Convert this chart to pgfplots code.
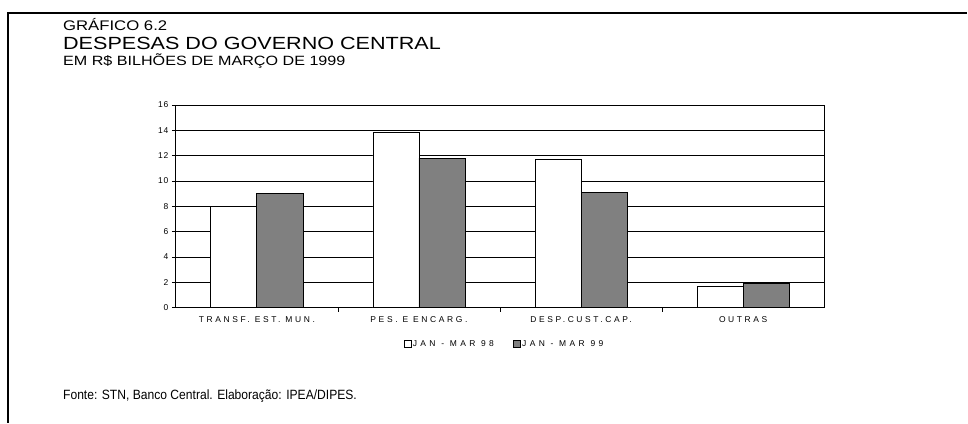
\documentclass[border=0pt]{standalone}
\usepackage{fontspec}
\setmainfont{Liberation Sans}
\newfontfamily\spaced[LetterSpace=31]{Liberation Sans}
\newfontfamily\spacedl[LetterSpace=40]{Liberation Sans}
\newfontfamily\spacedy[LetterSpace=10]{Liberation Sans}
\usepackage{pgfplots}
\pgfplotsset{compat=1.18}
\definecolor{bargray}{HTML}{808080}
\begin{document}
\begin{tikzpicture}[x=1bp,y=1bp]
\path (0,0) rectangle (968,-423);
\draw[line width=1.8bp] (8,-423) -- (8,-13) -- (968,-13);
\node[anchor=base west, inner sep=0pt, font=\fontsize{14}{16}\selectfont] at (63,-30.7) {\scalebox{1.2}[1]{GRÁFICO 6.2}};
\node[anchor=base west, inner sep=0pt, font=\fontsize{17.7}{20}\selectfont] at (63,-49.3) {\scalebox{1.225}[1]{DESPESAS DO GOVERNO CENTRAL}};
\node[anchor=base west, inner sep=0pt, font=\fontsize{13.5}{15}\selectfont] at (63,-65.3) {\scalebox{1.2}[1]{EM R\$ BILHÕES DE MARÇO DE 1999}};
\node[anchor=base west, inner sep=0pt, font=\fontsize{13.5}{15}\selectfont] at (63,-400) {\scalebox{0.9}[1]{Fonte: STN, Banco Central. Elaboração: IPEA/DIPES.}};
\begin{axis}[
  at={(176bp,-308bp)}, anchor=south west,
  scale only axis, width=649bp, height=203bp,
  xmin=-0.5, xmax=3.5, ymin=0, ymax=16,
  ytick={0,2,...,16},
  ymajorgrids, grid style={black, line width=0.6bp},
  axis line style={black, line width=0.8bp},
  xtick={0,1,2,3},
  xticklabels={TRANSF. EST. MUN., PES. E ENCARG., DESP.CUST.CAP., OUTRAS},
  major x tick style={draw=none},
  minor xtick={0.5,1.5,2.5},
  minor x tick style={black, line width=0.6bp},
  tick align=outside,
  major tick length=4bp, minor tick length=4bp,
  ytick style={black, line width=0.6bp},
  xtick pos=bottom, ytick pos=left,
  x tick label style={font=\spaced\fontsize{8.5}{10}\selectfont, yshift=-1.5bp},
  y tick label style={font=\spacedy\fontsize{8.5}{10}\selectfont},
  /pgf/number format/assume math mode=true,
  ybar=0pt, bar width=0.284,
  legend style={at={(0.506,-0.182)}, anchor=center, draw=none, fill=none,
    legend columns=2, font=\spacedl\fontsize{8.5}{10}\selectfont,
    /tikz/every even column/.append style={column sep=18bp},
    inner sep=0pt,
    nodes={inner sep=1bp}},
  legend image code/.code={\draw[#1, line width=0.8bp] (0bp,-3.2bp) rectangle (7.5bp,4.2bp);},
]
\addplot[fill=white, draw=black, line width=0.8bp] coordinates {(0,8.0) (1,13.8) (2,11.7) (3,1.7)};
\addplot[fill=bargray, draw=black, line width=0.8bp] coordinates {(0,9.0) (1,11.8) (2,9.1) (3,1.9)};
\legend{JAN - MAR 98, JAN - MAR 99}
\end{axis}
\end{tikzpicture}
\end{document}
